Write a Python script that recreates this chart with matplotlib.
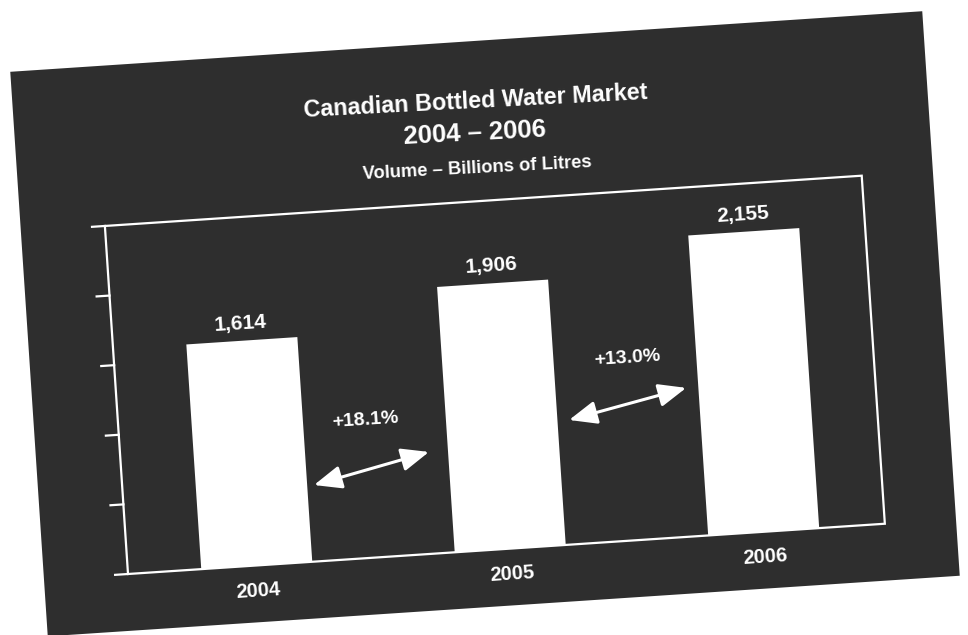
import matplotlib
matplotlib.use('Agg')
import matplotlib.pyplot as plt
import matplotlib.transforms as mtransforms
from matplotlib.patches import Rectangle

# data
years = ['2004', '2005', '2006']
volumes = [1614, 1906, 2155]
growth_labels = ['+18.1%', '+13.0%']
arrow_starts = [(0.246, 548), (1.265, 892)]
arrow_ends = [(0.706, 730), (1.733, 1066)]
growth_label_pos = [(0.463, 989), (1.509, 1308)]
y_ticks = [0, 500, 1000, 1500, 2000, 2500]

title = 'Canadian Bottled Water Market'
period = '2004 \u2013 2006'
subtitle = 'Volume \u2013 Billions of Litres'

plt.rcParams['font.family'] = ['Liberation Sans', 'DejaVu Sans']

W, H = 968, 635
fig = plt.figure(figsize=(W / 100, H / 100), dpi=100, facecolor='white')
ox, oy = 128, 61
ax = fig.add_axes([ox / W, oy / H, 758.5 / W, 348.8 / H])
ax.set_xlim(-0.508, 2.478)
ax.set_ylim(0, 2500)
ax.axis('off')

# the scanned page is tilted, so everything is turned a few degrees
angle = 3.8
rot = mtransforms.Affine2D().rotate_deg_around(ox, oy, angle)
t_data = ax.transData + rot
t_axes = ax.transAxes + rot
t_xdata = mtransforms.blended_transform_factory(ax.transData, ax.transAxes) + rot
t_ydata = mtransforms.blended_transform_factory(ax.transAxes, ax.transData) + rot

# dark background panel
panel = Rectangle((-0.111, -0.163), 1.205, 1.622, transform=t_axes,
                  facecolor='#2e2e2e', edgecolor='none', zorder=0, clip_on=False)
ax.add_patch(panel)

# plot frame
frame = Rectangle((0, 0), 1, 1, transform=t_axes, facecolor='none',
                  edgecolor='white', lw=1.6, zorder=2, clip_on=False)
ax.add_patch(frame)
for t in y_ticks:
    ax.plot([-0.017, 0], [t, t], color='white', lw=1.6, transform=t_ydata,
            clip_on=False, zorder=2)

# bars
bars = ax.bar(range(len(years)), volumes, width=0.438, color='white', zorder=3)
for b in bars:
    b.set_transform(t_data)
    b.set_clip_on(False)

for i, v in enumerate(volumes):
    ax.text(i, v + 125, f'{v:,}', transform=t_data, rotation=angle,
            rotation_mode='anchor', ha='center', va='center',
            color='white', fontsize=15, fontweight='bold', clip_on=False)
    ax.text(i, -0.073, years[i], transform=t_xdata, rotation=angle,
            rotation_mode='anchor', ha='center', va='center',
            color='white', fontsize=14.5, fontweight='bold', clip_on=False)

# growth arrows
for s, e, lbl, pos in zip(arrow_starts, arrow_ends, growth_labels, growth_label_pos):
    ax.annotate('', xy=e, xytext=s, xycoords=t_data, textcoords=t_data,
                annotation_clip=False,
                arrowprops=dict(arrowstyle='<|-|>,head_length=1.2,head_width=0.5',
                                mutation_scale=14, lw=2.2, color='white',
                                shrinkA=0, shrinkB=0))
    ax.text(pos[0], pos[1], lbl, transform=t_data, rotation=angle,
            rotation_mode='anchor', ha='center', va='center',
            color='white', fontsize=14, fontweight='bold', clip_on=False)

# titles
ax.text(0.498, 1.287, title, transform=t_axes, rotation=3.0, rotation_mode='anchor',
        ha='center', va='center', color='white', fontsize=16.8, fontweight='bold')
ax.text(0.495, 1.196, period, transform=t_axes, rotation=3.0, rotation_mode='anchor',
        ha='center', va='center', color='white', fontsize=18.5, fontweight='bold')
ax.text(0.495, 1.095, subtitle, transform=t_axes, rotation=3.0, rotation_mode='anchor',
        ha='center', va='center', color='white', fontsize=13.2, fontweight='bold')

fig.savefig('out.png', dpi=100, facecolor='white')
